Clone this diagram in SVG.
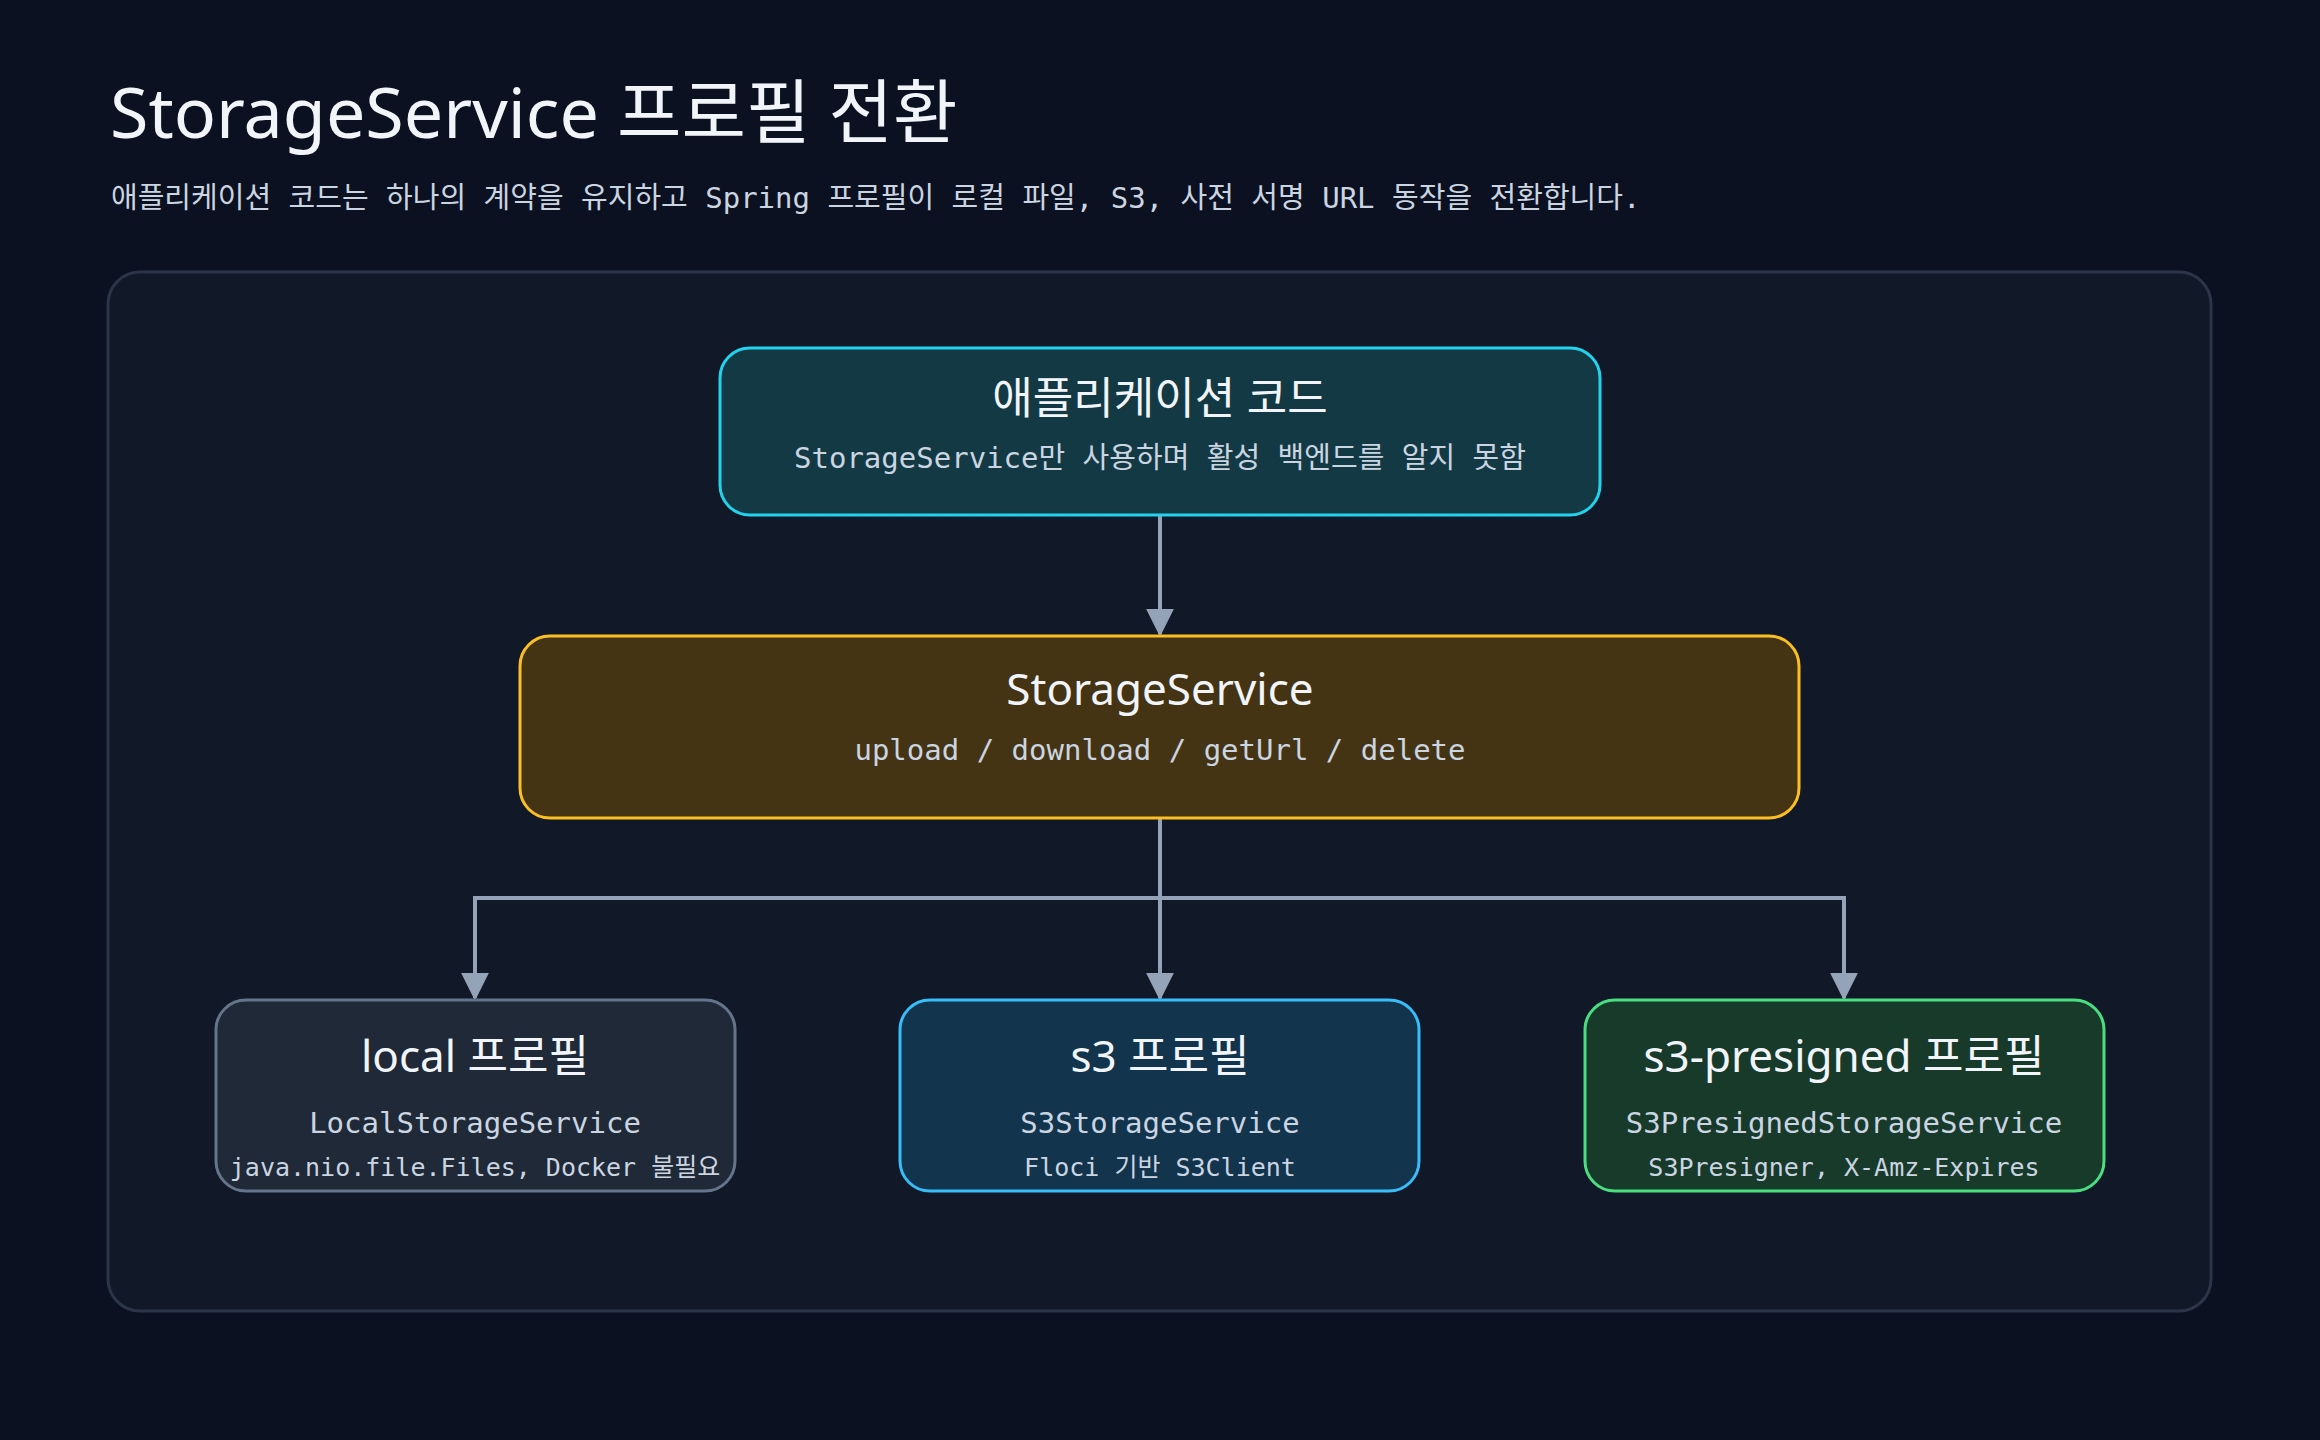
<svg xmlns="http://www.w3.org/2000/svg" width="2320" height="1440" viewBox="0 0 2320 1440">
<defs>
<marker id="arr" viewBox="0 0 10 10" refX="9" refY="5" markerWidth="28" markerHeight="28" markerUnits="userSpaceOnUse" orient="auto"><path d="M0,0 L10,5 L0,10 Z" fill="#94a3b8"/></marker>
<style>
.sans{font-family:"Noto Sans","Noto Sans CJK KR",sans-serif;fill:#f1f5f9}
.mono{font-family:"DejaVu Sans Mono","Noto Sans CJK KR",monospace;fill:#cbd5e1}
.t{font-size:44px;text-anchor:middle}
.s{font-size:29px;text-anchor:middle}
.s2{font-size:25px;text-anchor:middle}
.c{stroke:#94a3b8;stroke-width:4;fill:none}
</style>
</defs>
<rect width="2320" height="1440" fill="#0b1120"/>
<text class="sans" x="110" y="138" font-size="70">StorageService 프로필 전환</text>
<text class="mono" x="111" y="208" font-size="29">애플리케이션 코드는 하나의 계약을 유지하고 Spring 프로필이 로컬 파일, S3, 사전 서명 URL 동작을 전환합니다.</text>
<rect x="108" y="272" width="2103" height="1039" rx="32" fill="#111827" stroke="#2b3547" stroke-width="3"/>
<g id="connectors">
<path class="c" d="M1160,515 V634" marker-end="url(#arr)"/>
<path class="c" d="M1160,818 V998" marker-end="url(#arr)"/>
<path class="c" d="M475,998 V898 H1844 V998" marker-end="url(#arr)"/>
<path class="c" d="M475,898 V998" marker-end="url(#arr)"/>
</g>
<g id="app">
<rect x="720" y="348" width="880" height="167" rx="30" fill="#133a44" stroke="#22d3ee" stroke-width="3"/>
<text class="sans t" x="1160" y="414">애플리케이션 코드</text>
<text class="mono s" x="1160" y="468">StorageService만 사용하며 활성 백엔드를 알지 못함</text>
</g>
<g id="storage">
<rect x="520" y="636" width="1279" height="182" rx="30" fill="#443413" stroke="#fbbf24" stroke-width="3"/>
<text class="sans t" x="1160" y="705">StorageService</text>
<text class="mono s" x="1160" y="760">upload / download / getUrl / delete</text>
</g>
<g id="local">
<rect x="216" y="1000" width="519" height="191" rx="30" fill="#1f2937" stroke="#64748b" stroke-width="3"/>
<text class="sans t" x="475" y="1072">local 프로필</text>
<text class="mono s" x="475" y="1133">LocalStorageService</text>
<text class="mono s2" x="475" y="1176">java.nio.file.Files, Docker 불필요</text>
</g>
<g id="s3">
<rect x="900" y="1000" width="519" height="191" rx="30" fill="#12344d" stroke="#38bdf8" stroke-width="3"/>
<text class="sans t" x="1160" y="1072">s3 프로필</text>
<text class="mono s" x="1160" y="1133">S3StorageService</text>
<text class="mono s2" x="1160" y="1176">Floci 기반 S3Client</text>
</g>
<g id="presigned">
<rect x="1585" y="1000" width="519" height="191" rx="30" fill="#173a2a" stroke="#4ade80" stroke-width="3"/>
<text class="sans t" x="1844" y="1072">s3-presigned 프로필</text>
<text class="mono s" x="1844" y="1133">S3PresignedStorageService</text>
<text class="mono s2" x="1844" y="1176">S3Presigner, X-Amz-Expires</text>
</g>
</svg>
